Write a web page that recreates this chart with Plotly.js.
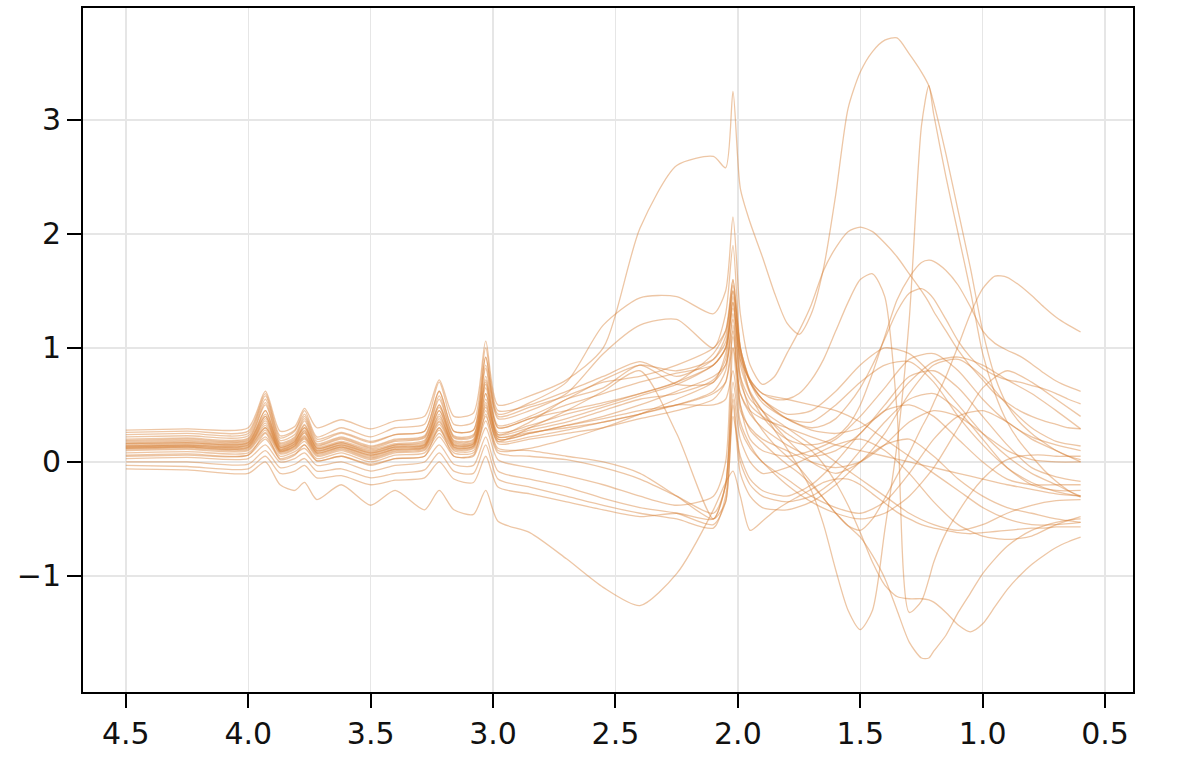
<!DOCTYPE html>
<html>
<head>
<meta charset="utf-8">
<script src="https://cdn.plot.ly/plotly-3.0.1.min.js"></script>
<style>html,body{margin:0;padding:0;background:#fff;}#chart{width:1200px;height:768px;}</style>
</head>
<body>
<div id="chart"></div>
<script>
// x grids (ppm-like, reversed axis)
const X_FINE = [4.5,4.25,4.0,3.93,3.87,3.81,3.77,3.72,3.62,3.5,3.4,3.28,3.22,3.16,3.08,3.03,2.98,2.85,2.7,2.55,2.4,2.25,2.1,2.05,2.02,
  1.99,1.95,1.9,1.85,1.8,1.75,1.7,1.65,1.6,1.55,1.5,1.45,1.4,1.35,1.3,1.25,1.22,1.2,1.15,1.1,1.05,1.0,0.95,0.9,0.85,0.8,0.75,0.7,0.65,0.6];
const X_COARSE = [4.5,4.25,4.0,3.93,3.87,3.81,3.77,3.72,3.62,3.5,3.4,3.28,3.22,3.16,3.08,3.03,2.98,2.85,2.7,2.55,2.4,2.25,2.1,2.05,2.02,
  1.99,1.95,1.9,1.8,1.7,1.6,1.5,1.4,1.3,1.2,1.1,1.0,0.9,0.8,0.7,0.6];

const X_TICKS = [4.5,4.0,3.5,3.0,2.5,2.0,1.5,1.0,0.5];
const X_TICK_TEXT = ["4.5","4.0","3.5","3.0","2.5","2.0","1.5","1.0","0.5"];
const Y_TICKS = [-1,0,1,2,3];
const Y_TICK_TEXT = ["\u22121","0","1","2","3"];

// fine-grid series
const sT  = [0.28,0.29,0.30,0.62,0.27,0.31,0.47,0.30,0.37,0.29,0.36,0.40,0.72,0.40,0.43,1.06,0.50, 0.58,0.72,1.0,2.05,2.6,2.68,2.58,3.25, 2.4,2.1,1.8,1.48,1.22,1.12,1.3,1.7,2.35,3.1,3.42,3.6,3.7,3.72,3.58,3.42,3.3,3.15,2.7,2.2,1.7,1.15,0.75,0.5,0.35,0.25,0.17,0.1,0.05,0.02];
const sB  = [0.16,0.17,0.17,0.45,0.13,0.18,0.32,0.12,0.17,0.1,0.15,0.17,0.5,0.17,0.18,0.7,0.24, 0.3,0.38,0.48,0.58,0.68,0.85,1.0,1.35, 0.9,0.62,0.45,0.28,0.12,-0.05,-0.25,-0.55,-0.95,-1.3,-1.47,-1.3,-0.6,0.15,1.25,2.95,3.3,3.05,2.5,2.0,1.5,0.95,0.6,0.35,0.18,0.05,-0.07,-0.17,-0.25,-0.3];
const sD2 = [0.12,0.13,0.13,0.38,0.09,0.14,0.26,0.08,0.13,0.06,0.11,0.13,0.42,0.13,0.14,0.6,0.2, 0.25,0.32,0.4,0.5,0.62,0.75,0.85,1.15, 0.5,0.28,0.17,0.07,-0.02,-0.1,-0.2,-0.32,-0.45,-0.56,-0.66,-0.82,-1.02,-1.3,-1.58,-1.72,-1.72,-1.66,-1.52,-1.32,-1.15,-0.98,-0.85,-0.74,-0.66,-0.6,-0.56,-0.53,-0.51,-0.5];
const sD4 = [0.05,0.06,0.06,0.25,0.02,0.06,0.15,0.01,0.05,-0.02,0.03,0.05,0.3,0.05,0.06,0.42,0.1, 0.12,0.2,0.3,0.42,0.55,0.7,0.85,1.25, 0.7,0.5,0.4,0.33,0.25,0.18,0.1,-0.02,-0.18,-0.38,-0.62,-0.88,-1.08,-1.18,-1.2,-1.2,-1.21,-1.23,-1.32,-1.43,-1.49,-1.42,-1.27,-1.12,-1.0,-0.9,-0.82,-0.75,-0.7,-0.66];
const sL5 = [0.19,0.2,0.2,0.5,0.16,0.21,0.36,0.15,0.21,0.13,0.19,0.22,0.55,0.22,0.23,0.82,0.32, 0.4,0.55,0.72,0.85,0.8,0.9,1.05,1.55, 1.0,0.72,0.6,0.55,0.55,0.6,0.72,0.9,1.15,1.4,1.6,1.65,1.45,0.45,-1.32,-1.22,-1.03,-0.88,-0.62,-0.44,-0.28,-0.15,-0.05,0.02,0.05,0.06,0.06,0.05,0.05,0.05];
const sL6 = [0.14,0.15,0.15,0.4,0.11,0.16,0.28,0.1,0.15,0.08,0.13,0.15,0.45,0.15,0.16,0.65,0.22, 0.28,0.35,0.45,0.55,0.6,0.72,0.9,1.45, 0.75,0.45,0.28,0.15,0.05,-0.05,-0.18,-0.32,-0.45,-0.56,-0.6,-0.5,-0.32,-0.12,0.08,0.3,0.42,0.52,0.75,1.02,1.3,1.52,1.63,1.62,1.55,1.46,1.36,1.27,1.2,1.14];
const sH1 = [0.24,0.25,0.25,0.58,0.21,0.27,0.42,0.2,0.26,0.18,0.24,0.27,0.62,0.27,0.28,0.92,0.42, 0.52,0.7,1.2,1.44,1.45,1.3,1.5,2.15, 1.3,0.85,0.68,0.75,0.95,1.15,1.38,1.68,1.88,2.02,2.06,2.02,1.92,1.8,1.65,1.5,1.4,1.32,1.15,0.98,0.84,0.72,0.6,0.52,0.45,0.4,0.36,0.33,0.3,0.29];
const sP2 = [0.2,0.21,0.21,0.52,0.17,0.22,0.38,0.16,0.22,0.14,0.2,0.23,0.58,0.23,0.24,0.85,0.38, 0.45,0.6,0.95,1.2,1.25,1.0,1.3,1.9, 1.0,0.6,0.4,0.28,0.2,0.16,0.15,0.17,0.22,0.32,0.5,0.78,1.1,1.42,1.62,1.75,1.77,1.76,1.68,1.55,1.36,1.15,1.04,0.98,0.93,0.86,0.78,0.71,0.66,0.62];
const sP3 = [0.17,0.18,0.18,0.42,0.14,0.19,0.3,0.13,0.18,0.11,0.16,0.19,0.48,0.19,0.2,0.72,0.3, 0.38,0.5,0.6,0.7,0.78,0.85,1.0,1.5, 0.95,0.7,0.55,0.45,0.38,0.33,0.3,0.32,0.38,0.5,0.65,0.85,1.08,1.32,1.48,1.52,1.48,1.43,1.25,1.06,0.92,0.82,0.76,0.72,0.7,0.67,0.64,0.6,0.55,0.51];
const sBot = [-0.06,-0.07,-0.1,0.0,-0.2,-0.25,-0.18,-0.33,-0.2,-0.38,-0.25,-0.42,-0.25,-0.42,-0.46,-0.25,-0.52, -0.62,-0.85,-1.1,-1.26,-0.98,-0.42,-0.18,-0.08, -0.3,-0.6,-0.52,-0.43,-0.36,-0.3,-0.24,-0.18,-0.15,-0.15,-0.2,-0.28,-0.36,-0.44,-0.5,-0.55,-0.57,-0.58,-0.6,-0.62,-0.63,-0.62,-0.61,-0.6,-0.59,-0.58,-0.58,-0.57,-0.57,-0.57];

// coarse-grid series
const g1  = [0.26,0.27,0.27,0.6,0.23,0.28,0.45,0.22,0.3,0.22,0.3,0.33,0.7,0.33,0.35,1.0,0.45, 0.5,0.62,0.75,0.88,0.75,0.9,1.1,1.6, 1.0,0.7,0.52,0.38,0.35,0.5,0.7,0.85,0.88,0.7,0.4,0.15,-0.05,-0.18,-0.26,-0.3];
const g2  = [0.22,0.23,0.23,0.55,0.19,0.24,0.4,0.18,0.25,0.17,0.24,0.27,0.62,0.27,0.28,0.92,0.4, 0.48,0.58,0.7,0.75,0.85,1.0,1.15,1.5, 0.95,0.7,0.55,0.42,0.45,0.62,0.85,1.0,0.95,0.75,0.5,0.25,0.05,-0.1,-0.2,-0.31];
const g3  = [0.18,0.19,0.19,0.45,0.15,0.2,0.33,0.14,0.2,0.12,0.18,0.21,0.5,0.21,0.22,0.75,0.3, 0.38,0.45,0.52,0.6,0.7,0.85,1.0,1.4, 0.85,0.6,0.45,0.2,0.0,-0.1,0.0,0.25,0.6,0.85,0.9,0.75,0.5,0.3,0.18,0.14];
const g4  = [0.16,0.17,0.17,0.4,0.13,0.18,0.3,0.12,0.17,0.09,0.15,0.18,0.45,0.18,0.19,0.68,0.26, 0.32,0.42,0.5,0.6,0.7,0.95,1.15,1.6, 1.0,0.72,0.55,0.38,0.28,0.25,0.3,0.45,0.7,0.88,0.92,0.85,0.72,0.6,0.45,0.29];
const g5  = [0.15,0.16,0.16,0.36,0.12,0.17,0.27,0.11,0.16,0.08,0.14,0.16,0.4,0.16,0.17,0.6,0.22, 0.26,0.3,0.35,0.42,0.5,0.5,0.55,0.8, 0.35,0.15,0.0,-0.15,-0.3,-0.4,-0.45,-0.35,-0.1,0.2,0.4,0.45,0.35,0.2,0.1,0.0];
const g6  = [0.14,0.15,0.15,0.34,0.11,0.16,0.25,0.1,0.15,0.07,0.13,0.15,0.38,0.15,0.16,0.55,0.24, 0.35,0.55,0.65,0.85,0.68,0.7,0.95,1.4, 0.9,0.72,0.6,0.55,0.5,0.45,0.35,0.2,0.05,-0.1,-0.25,-0.4,-0.5,-0.55,-0.55,-0.53];
const g7  = [0.13,0.14,0.14,0.32,0.1,0.15,0.23,0.09,0.14,0.06,0.12,0.14,0.36,0.14,0.15,0.52,0.2, 0.25,0.32,0.38,0.45,0.5,0.6,0.7,1.0, 0.6,0.42,0.3,0.15,0.05,0.1,0.25,0.5,0.75,0.8,0.65,0.4,0.15,-0.05,-0.13,-0.17];
const g8  = [0.13,0.14,0.13,0.3,0.1,0.14,0.22,0.08,0.13,0.05,0.11,0.13,0.35,0.13,0.14,0.5,0.18, 0.22,0.28,0.35,0.42,0.5,0.62,0.8,1.3, 0.75,0.55,0.45,0.3,0.15,0.0,-0.15,-0.3,-0.45,-0.55,-0.6,-0.55,-0.45,-0.38,-0.34,-0.33];
const g9  = [0.12,0.13,0.12,0.3,0.09,0.13,0.21,0.07,0.12,0.04,0.1,0.12,0.33,0.12,0.13,0.48,0.16, 0.2,0.25,0.3,0.38,0.45,0.55,0.7,1.1, 0.5,0.2,0.1,0.05,0.1,0.2,0.4,0.65,0.9,0.95,0.8,0.55,0.35,0.22,0.15,0.1];
const g10 = [0.11,0.12,0.11,0.28,0.08,0.12,0.2,0.06,0.11,0.03,0.09,0.11,0.3,0.11,0.12,0.45,0.18, 0.3,0.45,0.62,0.8,0.25,-0.5,-0.2,0.7, 0.3,0.12,0.0,-0.2,-0.35,-0.45,-0.5,-0.45,-0.3,-0.05,0.3,0.65,0.8,0.7,0.55,0.4];
const g11 = [0.1,0.11,0.1,0.26,0.07,0.11,0.18,0.05,0.1,0.02,0.08,0.1,0.28,0.1,0.1,0.4,0.12, 0.1,0.05,0.0,-0.1,-0.3,-0.5,-0.35,0.6, 0.2,0.0,-0.1,-0.05,0.05,0.15,0.2,0.1,-0.1,-0.35,-0.55,-0.65,-0.68,-0.65,-0.55,-0.48];
const g12 = [0.08,0.09,0.08,0.22,0.05,0.09,0.15,0.03,0.08,0.0,0.06,0.08,0.25,0.08,0.08,0.36,0.08, 0.05,0.02,-0.05,-0.15,-0.3,-0.45,-0.2,1.0, 0.45,0.3,0.2,0.1,0.0,-0.05,0.0,0.15,0.35,0.45,0.4,0.25,0.1,0.02,0.0,0.0];
const g13 = [0.06,0.07,0.06,0.2,0.03,0.07,0.12,0.01,0.05,-0.03,0.03,0.05,0.22,0.05,0.05,0.3,0.02, -0.05,-0.12,-0.2,-0.3,-0.38,-0.3,0.0,1.2, 0.6,0.45,0.38,0.3,0.22,0.15,0.1,0.05,0.0,-0.05,-0.1,-0.15,-0.2,-0.24,-0.28,-0.3];
const g14 = [0.03,0.04,0.03,0.15,0.0,0.03,0.08,-0.03,0.0,-0.08,-0.03,0.0,0.15,-0.02,-0.03,0.22,-0.08, -0.15,-0.22,-0.32,-0.4,-0.45,-0.55,-0.35,0.4, 0.05,-0.15,-0.25,-0.3,-0.2,0.0,0.25,0.45,0.5,0.4,0.2,0.0,-0.15,-0.2,-0.2,-0.2];
const g15 = [0.0,0.0,-0.02,0.1,-0.05,-0.02,0.03,-0.08,-0.06,-0.14,-0.1,-0.07,0.08,-0.08,-0.1,0.15,-0.15, -0.22,-0.3,-0.38,-0.45,-0.5,-0.58,-0.3,0.5, -0.1,-0.3,-0.4,-0.42,-0.35,-0.2,0.0,0.15,0.2,0.05,-0.15,-0.3,-0.4,-0.45,-0.5,-0.53];
const g16 = [-0.03,-0.04,-0.06,0.05,-0.1,-0.08,-0.03,-0.14,-0.12,-0.2,-0.16,-0.14,0.0,-0.15,-0.18,0.05,-0.22, -0.28,-0.35,-0.42,-0.48,-0.45,-0.5,-0.2,0.55, 0.0,-0.2,-0.3,-0.35,-0.3,-0.15,0.1,0.35,0.55,0.6,0.45,0.2,-0.05,-0.2,-0.25,-0.25];

const fineSeries = [sT, sB, sD2, sD4, sL5, sL6, sH1, sP2, sP3, sBot];
const coarseSeries = [g1,g2,g3,g4,g5,g6,g7,g8,g9,g10,g11,g12,g13,g14,g15,g16];

const LINE_COLOR = 'rgba(214,128,56,0.45)';
function mk(x, y) {
  return {x: x, y: y, type: 'scatter', mode: 'lines', hoverinfo: 'skip',
          line: {color: LINE_COLOR, width: 1.3, shape: 'spline', smoothing: 0.7}};
}
const traces = [];
fineSeries.forEach(s => traces.push(mk(X_FINE, s)));
coarseSeries.forEach(s => traces.push(mk(X_COARSE, s)));

const axisFont = {family: 'DejaVu Sans, sans-serif', size: 30, color: '#111'};
const layout = {
  width: 1200, height: 768,
  margin: {l: 83, r: 67, t: 8, b: 76, pad: 0},
  paper_bgcolor: '#fff', plot_bgcolor: '#fff',
  showlegend: false,
  xaxis: {
    range: [4.675, 0.386], tickmode: 'array', tickvals: X_TICKS, ticktext: X_TICK_TEXT,
    showgrid: true, gridcolor: '#e6e6e6', gridwidth: 1.5, zeroline: false,
    showline: true, mirror: true, linecolor: '#000', linewidth: 2,
    ticks: 'outside', ticklen: 14, tickwidth: 2, tickcolor: '#000',
    tickfont: axisFont
  },
  yaxis: {
    range: [-2.018, 3.982], tickmode: 'array', tickvals: Y_TICKS, ticktext: Y_TICK_TEXT,
    showgrid: true, gridcolor: '#e6e6e6', gridwidth: 1.5, zeroline: false,
    showline: true, mirror: true, linecolor: '#000', linewidth: 2,
    ticks: 'outside', ticklen: 14, tickwidth: 2, tickcolor: '#000',
    tickfont: axisFont
  }
};
Plotly.newPlot('chart', traces, layout, {staticPlot: true, displayModeBar: false});
</script>
</body>
</html>
